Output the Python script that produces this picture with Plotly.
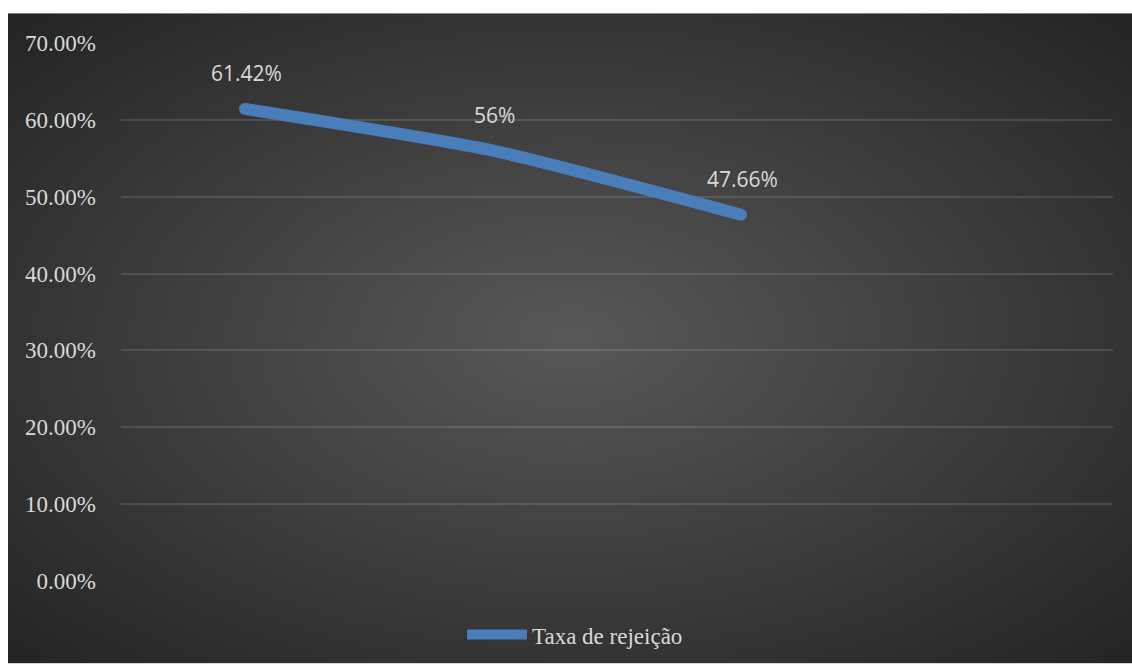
import urllib.parse
import plotly.graph_objects as go

# Data
categories = ["Cat 1", "Cat 2", "Cat 3", "Cat 4"]
taxa_rejeicao = [0.6142, 0.56, 0.4766, None]
series_name = "Taxa de rejeição"
y_ticks = [0, 0.1, 0.2, 0.3, 0.4, 0.5, 0.6, 0.7]

W, H = 1132, 668
ML, MR, MT, MB = 121, 19, 43, 83
PW, PH = W - ML - MR, H - MT - MB

LINE_COLOR = "#4a7ebb"
TEXT_COLOR = "#d9d9d9"


def pct_label(v):
    s = f"{v * 100:.2f}".rstrip("0").rstrip(".")
    return s + "%"


# Radial gradient backdrop as an inline SVG
svg = (
    "<svg xmlns='http://www.w3.org/2000/svg' width='1124' height='655' "
    "viewBox='0 0 1124 655' preserveAspectRatio='none'>"
    "<defs><radialGradient id='g' cx='50%' cy='50%' r='70%'>"
    "<stop offset='0' stop-color='#585858'/>"
    "<stop offset='1' stop-color='#242424'/>"
    "</radialGradient></defs>"
    "<rect width='1124' height='655' fill='url(#g)'/></svg>"
)
bg_src = "data:image/svg+xml;charset=utf-8," + urllib.parse.quote(svg)

# backdrop extents in paper coordinates
x0 = (8 - ML) / PW
x1 = (W - ML) / PW
y_top = (H - MB - 13) / PH
y_bot = (H - MB - H) / PH

fig = go.Figure()
# the smoothed line
fig.add_trace(
    go.Scatter(
        x=categories,
        y=taxa_rejeicao,
        name=series_name,
        legendgroup="taxa",
        mode="lines",
        line=dict(color=LINE_COLOR, width=12, shape="spline", smoothing=0.6),
        connectgaps=False,
        hoverinfo="skip",
    )
)
# round caps at the data points
fig.add_trace(
    go.Scatter(
        x=categories,
        y=taxa_rejeicao,
        name=series_name,
        legendgroup="taxa",
        showlegend=False,
        mode="markers",
        marker=dict(color=LINE_COLOR, size=12, line=dict(width=0)),
        hoverinfo="skip",
    )
)

annotations = []
for i, v in enumerate(taxa_rejeicao):
    if v is None:
        continue
    annotations.append(
        dict(
            x=i, y=v, text=pct_label(v), showarrow=False,
            yshift=36, xshift=1,
            font=dict(family="Open Sans", size=21, color=TEXT_COLOR),
        )
    )

fig.update_layout(
    width=W, height=H,
    margin=dict(l=ML, r=MR, t=MT, b=MB),
    paper_bgcolor="white",
    plot_bgcolor="rgba(0,0,0,0)",
    images=[dict(
        source=bg_src, xref="paper", yref="paper",
        x=x0, y=y_top, sizex=x1 - x0, sizey=y_top - y_bot,
        xanchor="left", yanchor="top", sizing="stretch", layer="below",
    )],
    annotations=annotations,
    showlegend=True,
    legend=dict(
        orientation="h", x=(575 - ML) / PW, xanchor="center",
        y=(H - MB - 639) / PH, yanchor="middle",
        font=dict(family="Liberation Serif", size=23, color=TEXT_COLOR),
        bgcolor="rgba(0,0,0,0)", itemwidth=60,
    ),
    xaxis=dict(
        type="category", range=[-0.5, 3.5], showticklabels=False,
        showgrid=False, zeroline=False, showline=False, ticks="",
    ),
    yaxis=dict(
        range=[0, 0.7], tickvals=y_ticks, tickformat=".2%",
        showgrid=True, gridcolor="rgba(255,255,255,0.12)", gridwidth=2,
        zeroline=False, showline=False, ticks="", ticklabelstandoff=24,
        tickfont=dict(family="Liberation Serif", size=23, color=TEXT_COLOR),
    ),
)

fig.write_html("out.html")
